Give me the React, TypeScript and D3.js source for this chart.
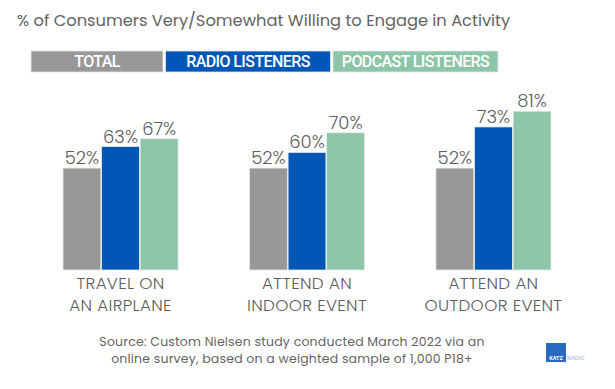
import React from "react";
import * as d3 from "d3";

const categories = ["TRAVEL ON|AN AIRPLANE", "ATTEND AN|INDOOR EVENT", "ATTEND AN|OUTDOOR EVENT"];
const seriesNames = ["TOTAL", "RADIO LISTENERS", "PODCAST LISTENERS"];
const totalValues = [52, 52, 52];
const radioValues = [63, 60, 73];
const podcastValues = [67, 70, 81];
const colors = ["#989898", "#0057B8", "#8CC5A8"];

const W = 615;
const H = 389;

export default function App() {
  const seriesValues = [totalValues, radioValues, podcastValues];
  const x0 = d3.scaleBand<string>().domain(categories).range([63, 551]).paddingInner(0.383).paddingOuter(0);
  const x1 = d3.scaleBand<string>().domain(seriesNames).range([0, x0.bandwidth()]).paddingInner(0.02);
  const y = d3.scaleLinear().domain([0, 100]).range([270, 74]);
  const legendW = [132, 165, 165];
  const legendStarts = [31, 165.5, 333];
  const textColor = "#5e5e5e";
  const font = "Poppins, 'Open Sans', sans-serif";

  return (
    <svg width={W} height={H} style={{ position: "absolute", left: 0, top: 0, background: "#fff" }}>
      <text x={263.5} y={26} textAnchor="middle" fontFamily={font} fontSize={16.3} fill="#636363">
        % of Consumers Very/Somewhat Willing to Engage in Activity
      </text>
      {seriesNames.map((s, i) => (
        <g key={s}>
          <rect x={legendStarts[i]} y={51} width={legendW[i]} height={21} fill={colors[i]} stroke="#e6e6e6" strokeWidth={0.8} />
          <text
            x={legendStarts[i] + legendW[i] / 2}
            y={67}
            textAnchor="middle"
            fontFamily="Roboto, sans-serif"
            fontWeight={500}
            fontSize={16}
            letterSpacing={-0.6}
            fill="#fff"
          >
            {s}
          </text>
        </g>
      ))}
      {categories.map((c, ci) => {
        const gx = x0(c)!;
        return (
          <g key={c}>
            {seriesNames.map((s, si) => {
              const v = seriesValues[si][ci];
              const bx = gx + x1(s)!;
              return (
                <g key={s}>
                  <rect
                    x={bx}
                    y={y(v)}
                    width={x1.bandwidth()}
                    height={y(0) - y(v)}
                    fill={colors[si]}
                    stroke="#e8e8e8"
                    strokeWidth={0.8}
                  />
                  <text
                    x={bx + x1.bandwidth() / 2}
                    y={y(v) - 4}
                    textAnchor="middle"
                    fontFamily={font}
                    fontWeight={300}
                    fontSize={18}
                    fill={textColor}
                  >
                    {v}%
                  </text>
                </g>
              );
            })}
            {c.split("|").map((line, li) => (
              <text
                key={li}
                x={gx + x0.bandwidth() / 2}
                y={288.5 + li * 22.5}
                textAnchor="middle"
                fontFamily={font}
                fontWeight={300}
                fontSize={16.8}
                letterSpacing={0.3}
                fill={textColor}
              >
                {line}
              </text>
            ))}
          </g>
        );
      })}
      <text x={292} y={345.5} textAnchor="middle" fontFamily={font} fontSize={12.5} letterSpacing={0.2} fill="#636363">
        Source: Custom Nielsen study conducted March 2022 via an
      </text>
      <text x={292} y={362.5} textAnchor="middle" fontFamily={font} fontSize={12.5} letterSpacing={0.2} fill="#636363">
        online survey, based on a weighted sample of 1,000 P18+
      </text>
      <g>
        <rect x={546} y={343} width={20} height={19} fill="#2a6ac0" />
        <text x={556} y={360} textAnchor="middle" fontFamily="Roboto, sans-serif" fontWeight={700} fontSize={5.5} fill="#fff">
          KATZ
        </text>
        <text x={567} y={360} fontFamily="Roboto, sans-serif" fontSize={6} fill="#9ab3d3">
          RADIO
        </text>
      </g>
    </svg>
  );
}
